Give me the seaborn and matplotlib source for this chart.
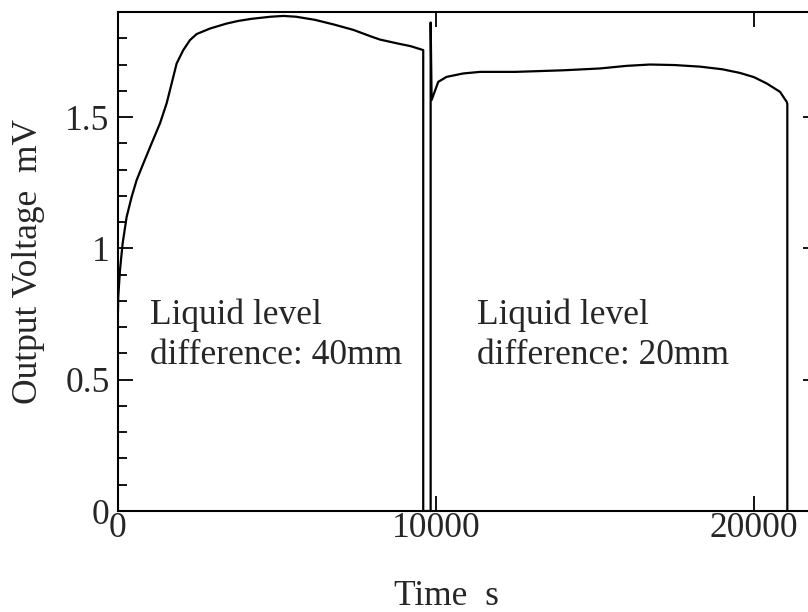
import numpy as np
import pandas as pd
import matplotlib
matplotlib.use("Agg")
import matplotlib.pyplot as plt
from matplotlib.ticker import MultipleLocator, FixedLocator
import seaborn as sns

# Recorded output voltage (mV) against time (s)
time_40mm = [0, 9, 63, 147, 273, 430, 587, 797, 1059, 1321, 1530, 1688,
             1845, 2054, 2264, 2474, 2893, 3417, 3784, 4200, 4800, 5200,
             5600, 6200, 6800, 7400, 8000, 8240, 8800, 9200, 9600]
volt_40mm = [0.76, 0.816, 0.917, 1.019, 1.120, 1.196, 1.260, 1.323, 1.400,
             1.476, 1.552, 1.628, 1.704, 1.755, 1.793, 1.816, 1.837, 1.856,
             1.866, 1.874, 1.882, 1.885, 1.882, 1.870, 1.852, 1.832, 1.805,
             1.795, 1.780, 1.770, 1.755]

# Drain and refill between the two runs
time_switch = [9600, 9833, 9833]
volt_switch = [0.0, 0.0, 1.86]

time_20mm = [9864, 9970, 10072, 10335, 10860, 11385, 12500, 14000, 15157,
             16000, 16730, 17500, 18300, 19000, 19560, 20000, 20400, 20820,
             21030, 21050, 21050]
volt_20mm = [1.565, 1.60, 1.634, 1.653, 1.666, 1.672, 1.672, 1.678, 1.685,
             1.695, 1.70, 1.698, 1.692, 1.682, 1.668, 1.652, 1.628, 1.596,
             1.558, 1.55, 0.0]

x_ticks = [0, 10000, 20000]
y_ticks = [0, 0.5, 1, 1.5]
y_tick_labels = ["0", "0.5", "1", "1.5"]

trace = pd.DataFrame({
    "Time": time_40mm + time_switch + time_20mm,
    "Voltage": volt_40mm + volt_switch + volt_20mm,
})

sns.set_theme(style="ticks")
plt.rcParams["font.family"] = ["Liberation Serif", "DejaVu Serif"]

fig = plt.figure(figsize=(8.08, 6.12), dpi=100)
fig.patch.set_facecolor("white")
ax = fig.add_axes([0.1460, 0.1650, 0.8658, 0.8154])
ax.set_facecolor("white")

sns.lineplot(data=trace, x="Time", y="Voltage", sort=False, estimator=None,
             color="black", linewidth=1.6, ax=ax)

ax.set_xlim(0, 22000)
ax.set_ylim(0, 1.9)

ax.xaxis.set_major_locator(FixedLocator(x_ticks))
ax.set_xticklabels([str(v) for v in x_ticks])
ax.yaxis.set_major_locator(FixedLocator(y_ticks))
ax.set_yticklabels(y_tick_labels)
ax.yaxis.set_minor_locator(MultipleLocator(0.1))

for side in ["left", "right", "top", "bottom"]:
    ax.spines[side].set_visible(True)
    ax.spines[side].set_linewidth(1.5)
    ax.spines[side].set_color("black")

ax.tick_params(axis="both", which="major", direction="in", length=11,
               width=1.3, color="black", labelsize=25.5, top=True, right=True)
ax.tick_params(axis="both", which="minor", direction="in", length=6.5,
               width=1.3, color="black", right=True)
ax.tick_params(axis="x", which="minor", bottom=False, top=False)
ax.tick_params(axis="x", pad=1)
ax.tick_params(axis="y", pad=6)

ax.set_xlabel("Time  s", fontsize=25.5)
ax.set_ylabel("Output Voltage  mV", fontsize=25.5)
ax.xaxis.set_label_coords(0.469, -0.138)
ax.yaxis.set_label_coords(-0.104, 0.5)

ax.text(1000, 0.81, "Liquid level\ndifference: 40mm", fontsize=25.5,
        va="top", ha="left", linespacing=1.28)
ax.text(11300, 0.81, "Liquid level\ndifference: 20mm", fontsize=25.5,
        va="top", ha="left", linespacing=1.28)

fig.savefig("out.png", dpi=100, facecolor="white")
